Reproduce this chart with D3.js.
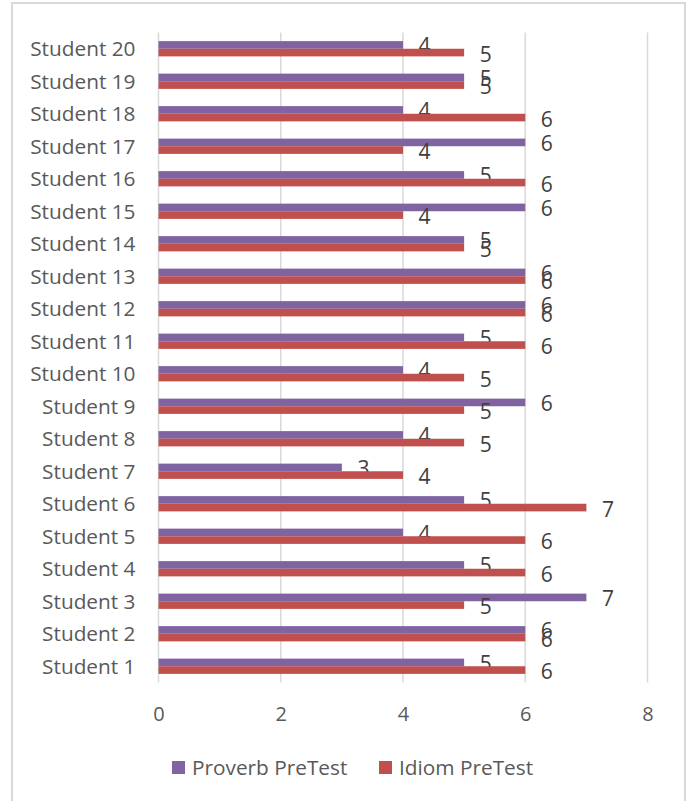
<!DOCTYPE html>
<html><head><meta charset="utf-8">
<script src="https://cdn.jsdelivr.net/npm/d3@7"></script>
<style>
html,body{margin:0;padding:0;background:#fff;}
svg{display:block;font-family:"Open Sans",sans-serif;}
</style></head>
<body><svg id="c" width="693" height="801"></svg>
<script>
const categories = ["Student 1","Student 2","Student 3","Student 4","Student 5","Student 6","Student 7","Student 8","Student 9","Student 10","Student 11","Student 12","Student 13","Student 14","Student 15","Student 16","Student 17","Student 18","Student 19","Student 20"];
const proverb = [5,6,7,5,4,5,3,4,6,4,5,6,6,5,6,5,6,4,5,4];
const idiom   = [6,6,5,6,6,7,4,5,5,5,6,6,6,5,4,6,4,6,5,5];
const seriesNames = ["Proverb PreTest","Idiom PreTest"];
const colors = ["#8064A2","#C0504D"];
const xTicks = [0,2,4,6,8];

(function(){
const svg = d3.select("#c");
const FS = 20.8, LFS = 21;
svg.append("rect").attr("x",12).attr("y",3).attr("width",673).attr("height",810)
  .attr("fill","none").attr("stroke","#d9d9d9").attr("stroke-width",2);

const pL=158.5, pR=647.5, pT=32.5, pB=682.5;
const x = d3.scaleLinear().domain([0,8]).range([pL,pR]);
const y = d3.scaleBand().domain(categories.slice().reverse()).range([pT,pB]).paddingInner(0).paddingOuter(0);
const bh = y.bandwidth()*0.235;

svg.append("g").selectAll("line").data(xTicks).join("line")
  .attr("x1",d=>x(d)).attr("x2",d=>x(d)).attr("y1",pT).attr("y2",pB)
  .attr("stroke","#d9d9d9").attr("stroke-width",1.5);

const xa = d3.axisBottom(x).tickValues(xTicks).tickSize(0).tickPadding(0);
const gx = svg.append("g").attr("transform",`translate(0,${pB})`).call(xa);
gx.select(".domain").remove();
gx.selectAll("text").attr("font-size",20).attr("fill","#595959").attr("font-family","Open Sans")
  .attr("dy","0.35em").attr("y",31);

const ya = d3.axisLeft(y).tickSize(0).tickPadding(0);
const gy = svg.append("g").attr("transform",`translate(${pL-23},0)`).call(ya);
gy.select(".domain").remove();
gy.selectAll("text").attr("font-size",FS).attr("fill","#595959").attr("font-family","Open Sans").attr("dy","0.35em");

const data = categories.map((c,i)=>({c, v:[proverb[i], idiom[i]]}));
const rows = svg.append("g").selectAll("g").data(data).join("g")
  .attr("transform",d=>`translate(0,${y(d.c)+y.bandwidth()/2})`);
[0,1].forEach(s=>{
  rows.append("rect").attr("x",x(0)).attr("y",s===0?-bh:0)
    .attr("width",d=>x(d.v[s])-x(0)).attr("height",bh).attr("fill",colors[s]);
  rows.append("text").attr("x",d=>x(d.v[s])+15.5).attr("y",s===0?-bh/2+1:bh/2+1.8)
    .attr("dy","0.35em").attr("font-size",LFS).attr("fill","#404040").text(d=>d.v[s]);
});

const lg = svg.append("g");
const lx=[172,379];
seriesNames.forEach((n,i)=>{
  lg.append("rect").attr("x",lx[i]).attr("y",761).attr("width",13).attr("height",13).attr("fill",colors[i]);
  lg.append("text").attr("x",lx[i]+20).attr("y",767.5).attr("dy","0.35em").attr("font-size",FS)
    .attr("fill","#595959").text(n);
});
})();
</script></body></html>
